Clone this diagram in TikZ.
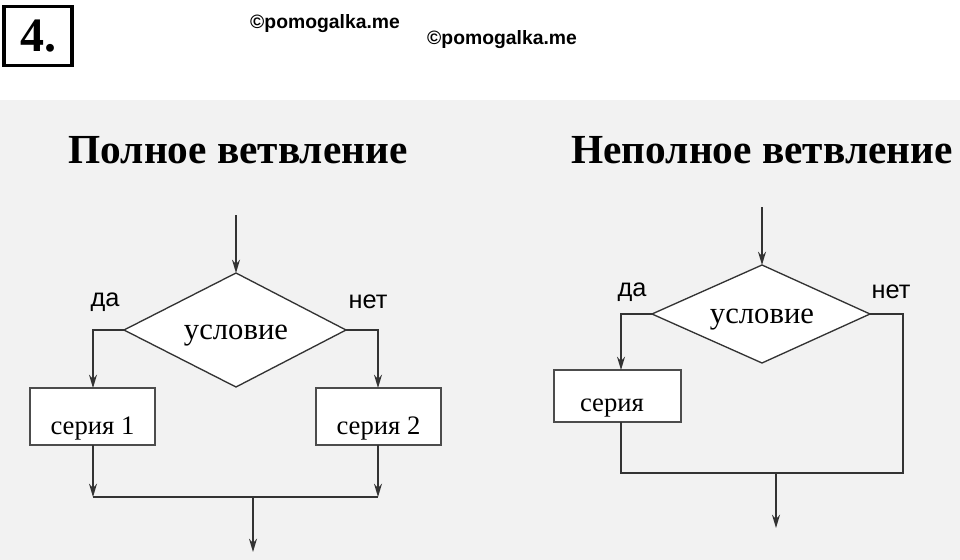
\documentclass[tikz,border=0pt]{standalone}
\usepackage{fontspec}
\setmainfont{Liberation Serif}
\newfontfamily\sansf{Liberation Sans}
\usetikzlibrary{arrows.meta}
\begin{document}
\begin{tikzpicture}[x=0.75pt,y=-0.75pt,
  ln/.style={line width=1pt,black!80},
  arr/.style={ln,-{Stealth[length=10pt,width=6pt]}},
  blk/.style={draw=black!70,line width=1pt,fill=white,font=\fontsize{20}{22}\selectfont},
  lbl/.style={font=\sansf\fontsize{19}{21}\selectfont},
  cond/.style={font=\fontsize{23}{25}\selectfont},
  ttl/.style={font=\bfseries\fontsize{31}{34}\selectfont}]
\useasboundingbox (0,0) rectangle (960,560);
\fill[white] (0,0) rectangle (960,560);
\fill[black!5] (0,100) rectangle (960,560);
\node[draw,line width=2.5pt,minimum width=51pt,minimum height=44pt,font=\bfseries\fontsize{36}{36}\selectfont] (num) at (38,36) {4.};
\node[font=\sansf\bfseries\fontsize{14.5}{16}\selectfont] (w1) at (325,24) {©pomogalka.me};
\node[font=\sansf\bfseries\fontsize{14.5}{16}\selectfont] (w2) at (502,40) {©pomogalka.me};
\node[ttl] (t1) at (238,150) {Полное ветвление};
\node[ttl] (t2) at (762,150) {Неполное ветвление};
% left
\coordinate (in1) at (236,215);
\draw[ln,fill=white] (124,330) coordinate (d1l) -- (236,273) coordinate (d1t) -- (346,330) coordinate (d1r) -- (236,387) coordinate (d1b) -- cycle;
\node[cond] (c1) at (236,336) {условие};
\draw[arr] (in1) -- (d1t);
\node[lbl] (da1) at (105,302) {да};
\node[lbl] (net1) at (368,302) {нет};
\draw[blk] (30,388) rectangle (155,445);
\draw[blk] (316,388) rectangle (441,445);
\node[blk,draw=none,fill=none] (s1) at (92.5,429) {серия 1};
\node[blk,draw=none,fill=none] (s2) at (378.5,429) {серия 2};
\coordinate (s1t) at (93,388); \coordinate (s1b) at (93,445);
\coordinate (s2t) at (378,388); \coordinate (s2b) at (378,445);
\draw[arr] (d1l) -| (s1t);
\draw[arr] (d1r) -| (s2t);
\coordinate (j1) at (93,497);
\coordinate (j2) at (378,497);
\coordinate (m1) at (253,497);
\coordinate (out1) at (253,552);
\draw[arr] (s1b) -- (j1);
\draw[arr] (s2b) -- (j2);
\draw[ln] (j1) -- (j2);
\draw[arr] (m1) -- (out1);
% right
\coordinate (in2) at (762,207);
\draw[ln,fill=white] (652,314) coordinate (d2l) -- (762,265) coordinate (d2t) -- (870,314) coordinate (d2r) -- (762,363) coordinate (d2b) -- cycle;
\node[cond] (c2) at (762,320) {условие};
\draw[arr] (in2) -- (d2t);
\node[lbl] (da2) at (632,292) {да};
\node[lbl] (net2) at (891,292) {нет};
\draw[blk] (554,370) rectangle (681,422);
\node[blk,draw=none,fill=none] (s3) at (612,408) {серия};
\coordinate (s3t) at (621,370); \coordinate (s3b) at (621,422);
\draw[arr] (d2l) -| (s3t);
\coordinate (k1) at (621,473);
\coordinate (k2) at (903,473);
\draw[ln] (s3b) -- (k1) -- (k2) |- (d2r);
\coordinate (m2) at (776,473);
\coordinate (out2) at (776,528);
\draw[arr] (m2) -- (out2);
\end{tikzpicture}
\end{document}
